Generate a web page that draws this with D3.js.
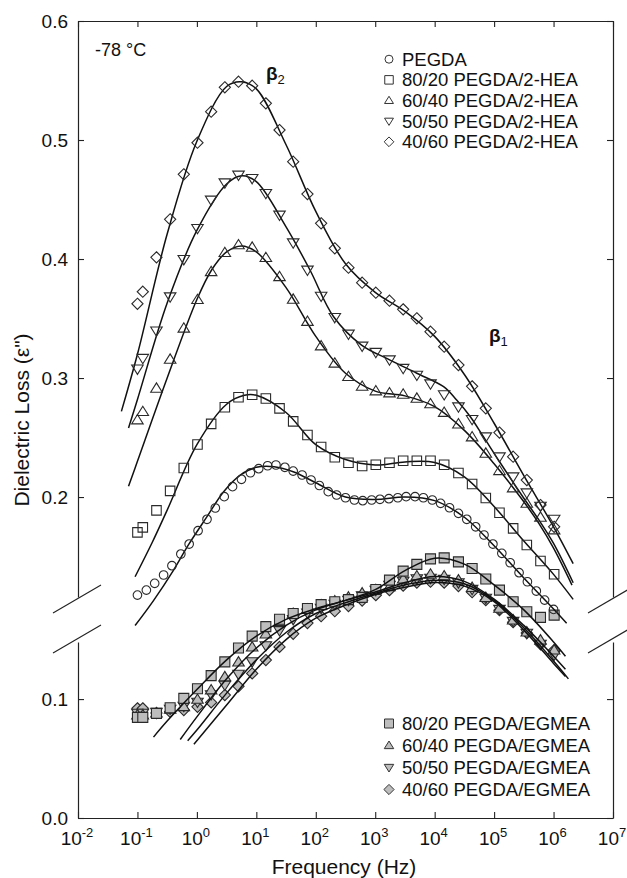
<!DOCTYPE html>
<html>
<head>
<meta charset="utf-8">
<script src="https://cdn.jsdelivr.net/npm/d3@7"></script>
<style>
  body { margin: 0; background: #fff; }
  svg { font-family: "Liberation Sans", Arial, sans-serif; }
</style>
</head>
<body>
<svg id="chart" width="627" height="878"></svg>
<script>
// log10 of frequency (Hz)
const freqDense = [-1.00, -0.85, -0.71, -0.56, -0.42, -0.27, -0.13, 0.02, 0.17, 0.31, 0.46, 0.60, 0.75, 0.90, 1.04, 1.19, 1.33, 1.48, 1.62, 1.77, 1.92, 2.06, 2.21, 2.35, 2.50, 2.65, 2.79, 2.94, 3.08, 3.23, 3.38, 3.52, 3.67, 3.81, 3.96, 4.10, 4.25, 4.40, 4.54, 4.69, 4.83, 4.98, 5.13, 5.27, 5.42, 5.56, 5.71, 5.85, 6.00];
const freqGrid = [-1.00, -0.91, -0.68, -0.45, -0.22, 0.01, 0.24, 0.47, 0.70, 0.93, 1.16, 1.39, 1.62, 1.86, 2.09, 2.32, 2.55, 2.78, 3.01, 3.24, 3.47, 3.70, 3.93, 4.16, 4.40, 4.63, 4.86, 5.09, 5.32, 5.55, 5.78, 6.01];

const pegda = [0.1176, 0.1218, 0.1275, 0.1345, 0.1423, 0.1521, 0.1605, 0.1717, 0.1813, 0.1908, 0.2003, 0.2087, 0.2149, 0.2204, 0.2238, 0.2263, 0.2269, 0.2250, 0.2218, 0.2185, 0.2143, 0.2097, 0.2045, 0.2017, 0.1994, 0.1975, 0.1969, 0.1975, 0.1981, 0.1986, 0.1994, 0.2003, 0.2003, 0.1994, 0.1975, 0.1947, 0.1910, 0.1863, 0.1813, 0.1750, 0.1681, 0.1605, 0.1527, 0.1448, 0.1364, 0.1288, 0.1210, 0.1134, 0.1056];
const hea8020 = [0.1703, 0.1745, 0.1888, 0.2052, 0.2244, 0.2441, 0.2615, 0.2754, 0.2838, 0.2859, 0.2828, 0.2745, 0.2636, 0.2521, 0.2420, 0.2334, 0.2288, 0.2261, 0.2271, 0.2288, 0.2305, 0.2305, 0.2305, 0.2271, 0.2202, 0.2109, 0.1992, 0.1868, 0.1737, 0.1597, 0.1462, 0.1351];
const hea6040 = [0.2647, 0.2717, 0.2913, 0.3157, 0.3418, 0.3658, 0.3893, 0.4053, 0.4118, 0.4098, 0.4011, 0.3851, 0.3661, 0.3475, 0.3269, 0.3124, 0.3011, 0.2929, 0.2891, 0.2874, 0.2863, 0.2829, 0.2782, 0.2710, 0.2613, 0.2504, 0.2367, 0.2221, 0.2076, 0.1947, 0.1829, 0.1723];
const hea5050 = [0.3077, 0.3166, 0.3397, 0.3683, 0.3997, 0.4258, 0.4496, 0.4641, 0.4706, 0.4678, 0.4552, 0.4370, 0.4137, 0.3908, 0.3689, 0.3510, 0.3370, 0.3269, 0.3217, 0.3154, 0.3082, 0.3025, 0.2952, 0.2861, 0.2759, 0.2653, 0.2507, 0.2339, 0.2171, 0.2036, 0.1924, 0.1815];
const hea4060 = [0.3624, 0.3725, 0.4014, 0.4334, 0.4712, 0.4977, 0.5238, 0.5443, 0.5490, 0.5456, 0.5308, 0.5084, 0.4818, 0.4546, 0.4300, 0.4090, 0.3927, 0.3801, 0.3717, 0.3650, 0.3577, 0.3502, 0.3389, 0.3263, 0.3109, 0.2930, 0.2745, 0.2542, 0.2339, 0.2143, 0.1933, 0.1750];

const eg8020 = [0.0846, 0.0846, 0.0880, 0.0927, 0.1006, 0.1087, 0.1197, 0.1313, 0.1429, 0.1529, 0.1609, 0.1671, 0.1720, 0.1762, 0.1794, 0.1819, 0.1836, 0.1855, 0.1922, 0.2000, 0.2076, 0.2133, 0.2179, 0.2187, 0.2154, 0.2098, 0.2010, 0.1916, 0.1818, 0.1734, 0.1687, 0.1706];
const eg6040 = [0.0866, 0.0866, 0.0882, 0.0913, 0.0935, 0.0997, 0.1076, 0.1187, 0.1311, 0.1437, 0.1546, 0.1650, 0.1720, 0.1756, 0.1790, 0.1824, 0.1857, 0.1891, 0.1920, 0.1944, 0.2008, 0.2035, 0.2049, 0.2035, 0.2000, 0.1937, 0.1853, 0.1762, 0.1664, 0.1563, 0.1496, 0.1412];
const eg5050 = [0.0882, 0.0882, 0.0891, 0.0916, 0.0941, 0.0975, 0.1038, 0.1118, 0.1210, 0.1315, 0.1450, 0.1577, 0.1670, 0.1725, 0.1765, 0.1798, 0.1832, 0.1870, 0.1916, 0.1958, 0.1992, 0.2013, 0.2017, 0.2008, 0.1979, 0.1924, 0.1849, 0.1756, 0.1655, 0.1555, 0.1462, 0.1370];
const eg4060 = [0.0922, 0.0922, 0.0882, 0.0893, 0.0908, 0.0935, 0.0972, 0.1034, 0.1107, 0.1216, 0.1328, 0.1439, 0.1549, 0.1639, 0.1697, 0.1739, 0.1782, 0.1828, 0.1874, 0.1916, 0.1954, 0.1979, 0.1987, 0.1979, 0.1950, 0.1899, 0.1832, 0.1748, 0.1647, 0.1555, 0.1462, 0.1412];

// fitted curves, [log10 f, loss]
const fitPegda = [[-1.04, 0.092], [-0.73, 0.113], [-0.4, 0.138], [-0.14, 0.160], [0.17, 0.1835], [0.45, 0.2045], [0.73, 0.2185], [1.0, 0.225], [1.3, 0.2255], [1.62, 0.2213], [2.0, 0.212], [2.5, 0.2], [3.0, 0.198], [3.5, 0.2], [4.0, 0.197], [4.5, 0.183], [5.0, 0.159], [5.5, 0.132], [6.0, 0.106], [6.22, 0.094]];
const fit8020 = [[-1.04, 0.133], [-0.75, 0.162], [-0.5, 0.189], [0, 0.244], [0.5, 0.278], [0.8, 0.2855], [1.0, 0.2855], [1.5, 0.271], [2.0, 0.244], [2.5, 0.2315], [3.0, 0.227], [3.5, 0.2295], [4.0, 0.229], [4.5, 0.217], [5.0, 0.192], [5.5, 0.163], [6.0, 0.135], [6.33, 0.114]];
const fit6040 = [[-1.15, 0.209], [-1.0, 0.230], [-0.5, 0.300], [0, 0.366], [0.25, 0.391], [0.5, 0.406], [0.75, 0.411], [1.0, 0.406], [1.5, 0.376], [2.0, 0.335], [2.5, 0.304], [3.0, 0.289], [3.5, 0.285], [4.0, 0.276], [4.5, 0.256], [5.0, 0.228], [5.5, 0.196], [5.75, 0.178], [6.0, 0.157], [6.31, 0.126]];
const fit5050 = [[-1.15, 0.258], [-1.0, 0.282], [-0.5, 0.363], [0, 0.424], [0.5, 0.463], [0.75, 0.470], [1.0, 0.465], [1.5, 0.427], [1.9, 0.391], [2.3, 0.3515], [2.77, 0.3277], [3.25, 0.3151], [3.7, 0.304], [4.15, 0.2927], [4.37, 0.2815], [4.6, 0.2675], [4.82, 0.2507], [5.1, 0.229], [5.5, 0.199], [5.75, 0.181], [6.0, 0.161], [6.33, 0.128]];
const fit4060 = [[-1.27, 0.272], [-1.0, 0.320], [-0.5, 0.421], [0, 0.499], [0.5, 0.545], [0.75, 0.549], [1.0, 0.543], [1.5, 0.496], [2.0, 0.44], [2.5, 0.396], [3.0, 0.372], [3.5, 0.356], [4.0, 0.335], [4.5, 0.303], [5.0, 0.262], [5.5, 0.218], [6.0, 0.175], [6.33, 0.144]];

const fitEg8020 = [[-0.73, 0.068], [-0.5, 0.0815], [0, 0.108], [0.5, 0.133], [1.0, 0.153], [1.5, 0.167], [2.0, 0.176], [2.5, 0.183], [3.0, 0.192], [3.5, 0.208], [4.0, 0.2185], [4.5, 0.2135], [5.0, 0.196], [5.5, 0.175], [6.0, 0.148], [6.2, 0.136]];
const fitEg6040 = [[-0.28, 0.066], [0, 0.085], [0.5, 0.117], [1.0, 0.143], [1.5, 0.162], [2.0, 0.175], [2.5, 0.183], [3.0, 0.19], [3.5, 0.198], [4.0, 0.203], [4.5, 0.199], [5.0, 0.184], [5.5, 0.162], [6.0, 0.136], [6.2, 0.125]];
const fitEg5050 = [[-0.155, 0.065], [0, 0.074], [0.5, 0.105], [1.0, 0.133], [1.5, 0.156], [2.0, 0.172], [2.5, 0.181], [3.0, 0.189], [3.5, 0.196], [4.0, 0.2], [4.5, 0.197], [5.0, 0.183], [5.5, 0.16], [6.0, 0.132], [6.25, 0.117]];
const fitEg4060 = [[-0.05, 0.062], [0.5, 0.095], [1.0, 0.125], [1.5, 0.15], [2.0, 0.168], [2.5, 0.179], [3.0, 0.188], [3.5, 0.194], [4.0, 0.198], [4.5, 0.195], [5.0, 0.182], [5.5, 0.158], [6.0, 0.13], [6.2, 0.119]];

const decades = [-2, -1, 0, 1, 2, 3, 4, 5, 6, 7];
const upperTicks = [0.2, 0.3, 0.4, 0.5, 0.6];
const lowerTicks = [0.0, 0.1];
const upperLegend = ['PEGDA', '80/20 PEGDA/2-HEA', '60/40 PEGDA/2-HEA', '50/50 PEGDA/2-HEA', '40/60 PEGDA/2-HEA'];
const lowerLegend = ['80/20 PEGDA/EGMEA', '60/40 PEGDA/EGMEA', '50/50 PEGDA/EGMEA', '40/60 PEGDA/EGMEA'];

const svg = d3.select('#chart');
const ink = '#222';

const x = d3.scaleLog().domain([1e-2, 1e7]).range([78, 613]);
const yUp = d3.scaleLinear().domain([0.116, 0.6]).range([597, 21]);
const yLow = d3.scaleLinear().domain([0, 0.148]).range([818, 642]);

// marker shapes
const shapes = {
  circle: s => { const r = s / 2; return `M${-r},0A${r},${r} 0 1,0 ${r},0A${r},${r} 0 1,0 ${-r},0Z`; },
  square: s => { const h = s / 2; return `M${-h},${-h}H${h}V${h}H${-h}Z`; },
  up: s => { const h = s / 2; return `M0,${-h}L${h * 1.05},${h * 0.7}H${-h * 1.05}Z`; },
  down: s => { const h = s / 2; return `M0,${h}L${h * 1.05},${-h * 0.7}H${-h * 1.05}Z`; },
  diamond: s => { const h = s / 2 + 0.6; return `M0,${-h}L${h},0L0,${h}L${-h},0Z`; }
};

function axisStyle(g) {
  g.attr('font-family', null).attr('font-size', null);
  g.selectAll('path.domain').attr('stroke', ink).attr('stroke-width', 1.2);
  g.selectAll('.tick line').attr('stroke', ink).attr('stroke-width', 1.1);
  g.selectAll('.tick text').attr('fill', '#111').style('font-size', '19px');
}

// bottom / top
svg.append('g')
  .attr('transform', 'translate(0,818)')
  .call(d3.axisBottom(x).tickValues(decades.map(d => 10 ** d)).tickSizeInner(-6).tickSizeOuter(0).tickFormat(''))
  .call(axisStyle);
svg.append('g')
  .attr('transform', 'translate(0,21)')
  .call(d3.axisTop(x).tickValues(decades.map(d => 10 ** d)).tickSizeInner(-6).tickSizeOuter(0).tickFormat(''))
  .call(axisStyle);

const xLabels = svg.append('g').attr('fill', '#111');
decades.forEach(d => {
  const t = xLabels.append('text')
    .attr('x', x(10 ** d) - 1)
    .attr('y', 845)
    .attr('text-anchor', 'middle')
    .style('font-size', '19px');
  t.append('tspan').text('10');
  t.append('tspan').attr('dy', -8).style('font-size', '13px').text(String(d));
});

// left / right, broken
[[yUp, upperTicks], [yLow, lowerTicks]].forEach(([sc, ticks]) => {
  svg.append('g')
    .attr('transform', 'translate(78,0)')
    .call(d3.axisLeft(sc).tickValues(ticks).tickSizeInner(-6).tickSizeOuter(0).tickPadding(10).tickFormat(d3.format('.1f')))
    .call(axisStyle);
  svg.append('g')
    .attr('transform', 'translate(613,0)')
    .call(d3.axisRight(sc).tickValues(ticks).tickSizeInner(-6).tickSizeOuter(0).tickFormat(''))
    .call(axisStyle);
});

// break marks
const brk = svg.append('g').attr('stroke', ink).attr('stroke-width', 1.1);
[78, 613].forEach(ax => {
  [yUp(0.116) + 16, yLow(0.148) + 11].forEach(yc => {
    brk.append('line')
      .attr('x1', ax - 25).attr('y1', yc)
      .attr('x2', ax + 23).attr('y2', yc - 28);
  });
});

const line = sc => d3.line()
  .x(d => x(10 ** d[0]))
  .y(d => sc(d[1]))
  .curve(d3.curveCatmullRom.alpha(0.5));

function markers(freq, vals, sc, shape, size, fill) {
  svg.append('g')
    .selectAll('path')
    .data(vals)
    .join('path')
    .attr('transform', (d, i) => `translate(${x(10 ** freq[i])},${sc(d)})`)
    .attr('d', shapes[shape](size))
    .attr('fill', fill)
    .attr('stroke', '#2a2a2a')
    .attr('stroke-width', 1.1);
}

function curve(pts, sc) {
  svg.append('path')
    .datum(pts)
    .attr('fill', 'none')
    .attr('stroke', '#111')
    .attr('stroke-width', 1.5)
    .attr('d', line(sc));
}

// lower set: gray markers, then fits
const gray = '#bdbdbd';
markers(freqGrid, eg4060, yLow, 'diamond', 10, gray);
markers(freqGrid, eg5050, yLow, 'down', 11, gray);
markers(freqGrid, eg6040, yLow, 'up', 11, gray);
markers(freqGrid, eg8020, yLow, 'square', 10, gray);
[fitEg8020, fitEg6040, fitEg5050, fitEg4060].forEach(f => curve(f, yLow));

// upper set
[fitPegda, fit8020, fit6040, fit5050, fit4060].forEach(f => curve(f, yUp));
markers(freqDense, pegda, yUp, 'circle', 8.6, 'none');
markers(freqGrid, hea8020, yUp, 'square', 9.5, 'none');
markers(freqGrid, hea6040, yUp, 'up', 11, 'none');
markers(freqGrid, hea5050, yUp, 'down', 11, 'none');
markers(freqGrid, hea4060, yUp, 'diamond', 10, 'none');

// legends
const upShapes = ['circle', 'square', 'up', 'down', 'diamond'];
const lowShapes = ['square', 'up', 'down', 'diamond'];
upperLegend.forEach((name, i) => {
  const yb = 65.7 + i * 20.65;
  svg.append('path')
    .attr('transform', `translate(389,${yb - 6.5})`)
    .attr('d', shapes[upShapes[i]](i === 0 ? 8 : 8.5))
    .attr('fill', 'none').attr('stroke', '#333');
  svg.append('text').attr('x', 402).attr('y', yb).style('font-size', '18.5px').attr('fill', '#111').text(name);
});
lowerLegend.forEach((name, i) => {
  const yb = 730 + i * 22;
  svg.append('path')
    .attr('transform', `translate(389,${yb - 6.5})`)
    .attr('d', shapes[lowShapes[i]](9))
    .attr('fill', gray).attr('stroke', '#333');
  svg.append('text').attr('x', 402).attr('y', yb).style('font-size', '18.5px').attr('fill', '#111').text(name);
});

// annotations
svg.append('text').attr('x', 95).attr('y', 56).style('font-size', '18px').attr('fill', '#111').text('-78 °C');
const b2 = svg.append('text').attr('x', 266).attr('y', 80).attr('fill', '#111');
b2.append('tspan').style('font-size', '19px').attr('font-weight', 'bold').text('β');
b2.append('tspan').attr('dy', 4).style('font-size', '13px').text('2');
const b1 = svg.append('text').attr('x', 489).attr('y', 342).attr('fill', '#111');
b1.append('tspan').style('font-size', '19px').attr('font-weight', 'bold').text('β');
b1.append('tspan').attr('dy', 4).style('font-size', '13px').text('1');

// axis titles
svg.append('text')
  .attr('transform', 'translate(29,420) rotate(-90)')
  .attr('text-anchor', 'middle')
  .style('font-size', '21px')
  .attr('fill', '#111')
  .text('Dielectric Loss (ε")');
svg.append('text')
  .attr('x', 344).attr('y', 874)
  .attr('text-anchor', 'middle')
  .style('font-size', '21px')
  .attr('fill', '#111')
  .text('Frequency (Hz)');
</script>
</body>
</html>
